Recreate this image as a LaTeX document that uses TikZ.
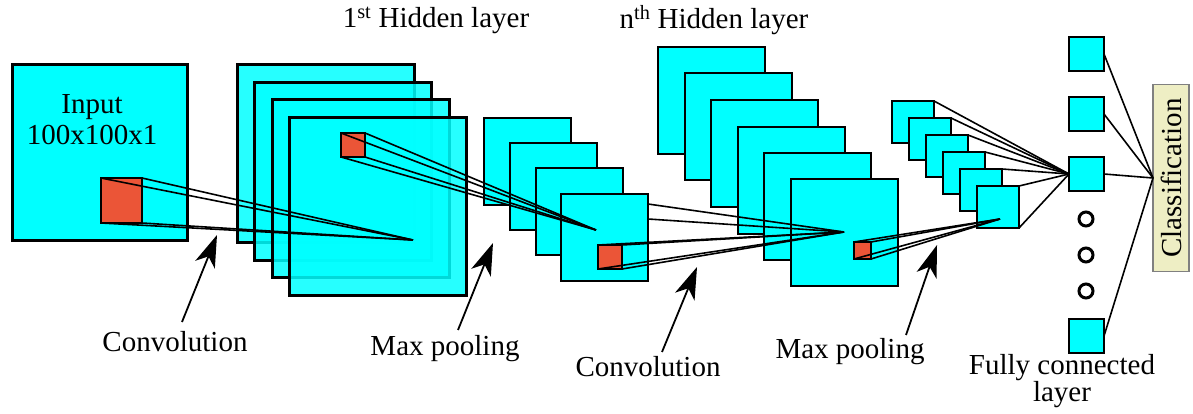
\documentclass[tikz,border=0pt]{standalone}
\usepackage{fontspec}
\setmainfont{Liberation Serif}
\newfontfamily\labelface{Liberation Serif}
\usetikzlibrary{arrows.meta}
\definecolor{mapcyan}{RGB}{0,255,255}
\definecolor{kernred}{RGB}{235,85,55}
\definecolor{clsback}{RGB}{238,238,196}
\tikzstyle{every node}=[inner sep=0pt,outer sep=0pt]
\tikzstyle{fmap}=[draw=black,fill=mapcyan,anchor=north west]
\tikzstyle{kern}=[draw=black,fill=kernred,anchor=north west,line width=2pt]
\tikzstyle{ray}=[draw=black,line width=1.6pt]
\tikzstyle{txt}=[font=\labelface\fontsize{29}{31}\selectfont,align=center]
\tikzstyle{pointer}=[line width=1.8pt,-{Stealth[length=32pt,width=21pt,inset=9pt]}]

\begin{document}
\begin{tikzpicture}[x=1pt,y=-1pt]
  \useasboundingbox (0,0) rectangle (1193,414);
  % input image
  \node[fmap,line width=3pt,minimum size=175pt] (in) at (12,65) {};
  \node[txt] (inlbl) at (92,120) {Input\\100x100x1};
  \node[kern,minimum width=41pt,minimum height=45pt] (k1) at (101,178) {};
  % 1st hidden layer
  \foreach \i/\x/\y in {1/237/65,2/254/83,3/272/100,4/289/118}
    \node[fmap,line width=3pt,fill opacity=0.85,minimum size=177pt] (h\i) at (\x,\y) {};
  \node[kern,minimum size=24pt] (k2) at (341,133) {};
  % max pooling 1
  \foreach \i/\x/\y in {1/484/118,2/510/143,3/536/168,4/561/194}
    \node[fmap,line width=2pt,minimum size=87pt] (p\i) at (\x,\y) {};
  \node[kern,minimum size=24pt] (k3) at (598,245) {};
  % nth hidden layer
  \foreach \i/\x/\y in {1/658/47,2/685/73,3/711/100,4/738/127,5/764/153,6/791/179}
    \node[fmap,line width=2pt,minimum size=107pt] (n\i) at (\x,\y) {};
  \node[kern,minimum size=17pt] (k4) at (854,242) {};
  % max pooling 2
  \foreach \i/\x/\y in {1/892/101,2/909/118,3/926/135,4/943/152,5/960/169,6/977/186}
    \node[fmap,line width=1.6pt,minimum size=42pt] (q\i) at (\x,\y) {};
  % fully connected layer
  \foreach \i/\y in {1/37,2/97,3/157,4/319}
    \node[fmap,line width=1.6pt,minimum width=35pt,minimum height=34pt] (f\i) at (1069,\y) {};
  \foreach \i/\y in {1/219,2/255,3/291}
    \node[draw=black,line width=3pt,circle,minimum size=14pt] (dot\i) at (1086,\y) {};
  \node[draw=gray,line width=1.2pt,fill=clsback,minimum width=36pt,minimum height=187pt] (cls) at (1171,178) {};
  \node[txt,rotate=90] (clslbl) at (cls) {Classification};

  % receptive field rays
  \coordinate (a1) at (413,240);
  \coordinate (a2) at (596,230);
  \coordinate (a3) at (844,232);
  \coordinate (a4) at (1000,219);
  \coordinate (e1) at (648,204);
  \coordinate (e2) at (648,219);
  \foreach \k/\a in {k1/a1,k2/a2,k3/a3,k4/a4}
    \foreach \c in {north west,north east,south east,south west}
      \draw[ray] (\k.\c) -- (\a);
  \draw[ray] (e1) -- (a3);
  \draw[ray] (e2) -- (a3);
  \foreach \i in {1,...,6}
    \draw[ray] (q\i.north east) -- (f3.west);
  \draw[ray] (q6.south east) -- (f3.west);
  \foreach \i in {1,...,4}
    \draw[ray] (f\i.east) -- (cls.west);

  % labels
  \node[txt] (hid1) at (436,20) {1\textsuperscript{st} Hidden layer};
  \node[txt] (hidn) at (714,20) {n\textsuperscript{th} Hidden layer};
  \node[txt] (conv1) at (175,342) {Convolution};
  \node[txt] (pool1) at (445,349) {Max pooling};
  \node[txt] (conv2) at (648,367) {Convolution};
  \node[txt] (pool2) at (850,352) {Max pooling};
  \node[txt,font=\labelface\fontsize{29}{25}\selectfont] (fclbl) at (1062,381) {Fully connected\\layer};
  \coordinate (t1) at (182,322);
  \coordinate (t2) at (458,330);
  \coordinate (t3) at (662,352);
  \coordinate (t4) at (906,335);
  \draw[pointer] (t1) -- (217,235);
  \draw[pointer] (t2) -- (493,243);
  \draw[pointer] (t3) -- (697,267);
  \draw[pointer] (t4) -- (937,245);
\end{tikzpicture}
\end{document}
